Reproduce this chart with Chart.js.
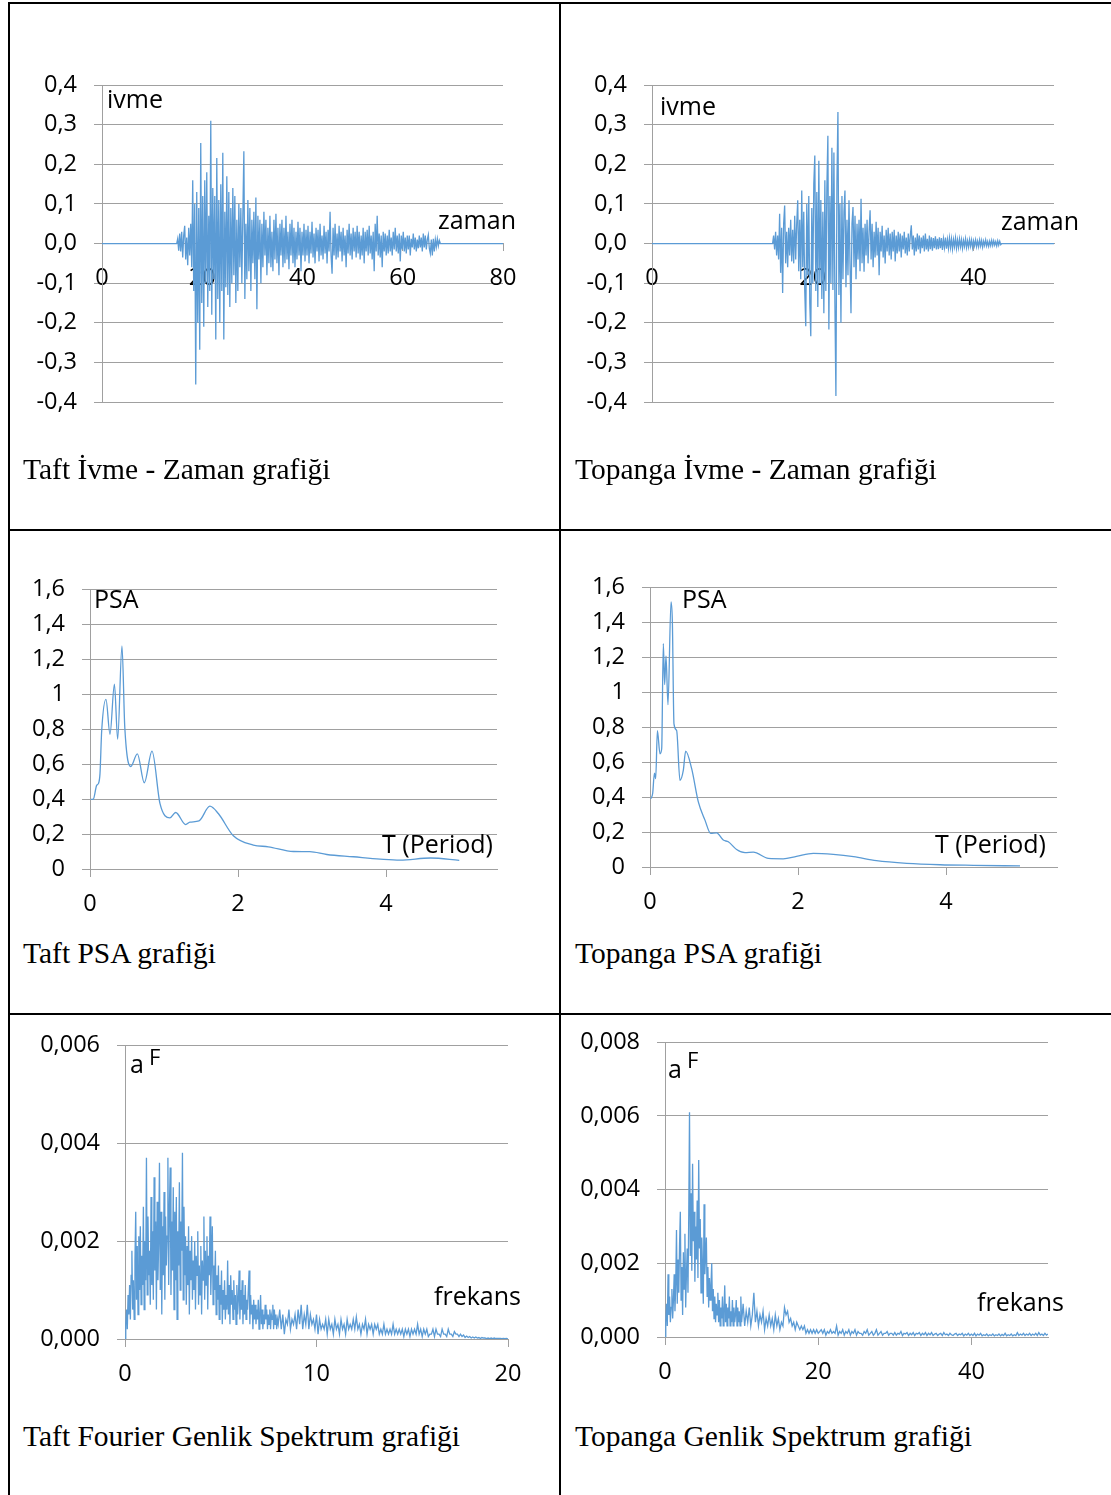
<!DOCTYPE html>
<html>
<head>
<meta charset="utf-8">
<script src="https://cdn.jsdelivr.net/npm/chart.js@4.4.1/dist/chart.umd.min.js"></script>
<style>
  body { margin: 0; background: #fff; }
  #page { position: relative; width: 1111px; height: 1495px; overflow: hidden; background: #fff; }
  .rule { position: absolute; background: #000; }
  canvas { position: absolute; }
  .cap { position: absolute; font-family: "Liberation Serif", "Times New Roman", serif; font-size: 29.5px; line-height: 1; white-space: nowrap; color: #000; }
  .ttl { position: absolute; font-family: "Open Sans", sans-serif; font-size: 25px; line-height: 1; white-space: nowrap; color: #000; }
  .ttl.sup { font-size: 22px; }
</style>
</head>
<body>
<div id="page">
  <!-- table rules -->
  <div class="rule" style="left:8px;top:2px;width:1103px;height:2px"></div>
  <div class="rule" style="left:8px;top:2px;width:2px;height:1493px"></div>
  <div class="rule" style="left:559px;top:2px;width:2px;height:1493px"></div>
  <div class="rule" style="left:8px;top:529px;width:1103px;height:2px"></div>
  <div class="rule" style="left:8px;top:1013px;width:1103px;height:2px"></div>

  <canvas id="taftAccChart"></canvas>
  <canvas id="topAccChart"></canvas>
  <canvas id="taftPsaChart"></canvas>
  <canvas id="topPsaChart"></canvas>
  <canvas id="taftFourierChart"></canvas>
  <canvas id="topFourierChart"></canvas>

  <!-- axis titles -->
  <div class="ttl" style="left:107px;top:86px">ivme</div>
  <div class="ttl" style="left:438px;top:207px">zaman</div>
  <div class="ttl" style="left:660px;top:93px">ivme</div>
  <div class="ttl" style="left:1001px;top:208px">zaman</div>
  <div class="ttl" style="left:94px;top:586px">PSA</div>
  <div class="ttl" style="left:382px;top:831px">T (Period)</div>
  <div class="ttl" style="left:682px;top:586px">PSA</div>
  <div class="ttl" style="left:935px;top:831px">T (Period)</div>
  <div class="ttl" style="left:130px;top:1051px">a</div>
  <div class="ttl sup" style="left:149px;top:1045px">F</div>
  <div class="ttl" style="left:434px;top:1283px">frekans</div>
  <div class="ttl" style="left:668px;top:1056px">a</div>
  <div class="ttl sup" style="left:687px;top:1048px">F</div>
  <div class="ttl" style="left:977px;top:1289px">frekans</div>

  <!-- captions -->
  <div class="cap" style="left:23px;top:455px">Taft İvme - Zaman grafiği</div>
  <div class="cap" style="left:575px;top:455px">Topanga İvme - Zaman grafiği</div>
  <div class="cap" style="left:23px;top:939px">Taft PSA grafiği</div>
  <div class="cap" style="left:575px;top:939px">Topanga PSA grafiği</div>
  <div class="cap" style="left:23px;top:1422px">Taft Fourier Genlik Spektrum grafiği</div>
  <div class="cap" style="left:575px;top:1422px">Topanga Genlik Spektrum grafiği</div>
</div>

<script>
// ---- Taft acceleration record (g), one value every TAFT_DT s starting at TAFT_T0
const TAFT_T0 = 14.9;
const TAFT_DT = 0.2;
const TAFT_TMAX = 80;
const taftAcc = [
  0, .012, -.018, .025, -.02, .03, -.035, .02, .045, -.04,
  .015, -.055, .04, -.03, .05, -.06, .16, -.12, .1, -.356,
  .13, -.2, .09, -.268, .254, -.15, .12, -.21, .16, -.1,
  .18, -.16, .07, -.12, .31, -.18, .14, -.09, .12, -.242,
  .216, -.14, .11, -.2, .15, -.12, .229, -.242, .08, -.11,
  .17, -.13, .13, -.16, .09, -.1, .14, -.08, .12, -.15,
  .06, -.12, .1, -.06, .09, -.1, .07, .233, -.14, .05,
  -.09, .11, -.07, .09, -.12, .06, -.05, .08, -.09, .116,
  -.166, .07, -.04, .06, -.1, .05, -.06, .08, -.03, .06,
  -.08, .04, -.05, .07, -.06, .03, -.07, .06, -.04, .075,
  -.05, .04, -.08, .05, -.03, .06, -.06, .04, -.05, .07,
  -.04, .03, -.065, .05, -.03, .06, -.05, .04, -.06, .03,
  -.04, .055, -.03, .04, -.07, .03, -.03, .05, -.045, .035,
  -.03, .045, -.05, .03, -.025, .055, -.035, .025, -.05, .04,
  -.02, .035, -.045, .05, -.03, .02, -.04, .045, -.025, .03,
  -.05, .035, -.02, .08, -.03, -.076, .04, -.03, .05, -.04,
  .025, -.035, .045, -.02, .03, -.045, .04, -.03, .02, -.06,
  .035, -.025, .05, -.03, .025, -.04, .04, -.02, .03, -.035,
  .045, -.025, .03, -.04, .02, -.03, .04, -.05, .03, -.02,
  .035, -.03, .045, -.025, .02, -.04, .03, -.07, .05, -.02,
  .07, -.03, .025, -.035, .02, -.06, .03, -.02, .025, -.03,
  .02, -.025, .035, -.02, .015, -.03, .03, -.015, .04, -.02,
  .02, -.025, .025, -.045, .02, -.015, .03, -.02, .015, -.025,
  .02, -.015, .02, -.03, .012, -.01, .025, -.015, .015, -.02,
  .01, -.012, .02, -.01, .015, -.02, .025, -.01, .02, -.015,
  .01, .022, -.012, -.025, .01, -.03, .012, -.02, .01, -.008,
  .012, -.006, .008, 0
];

// ---- Topanga acceleration record (g)
const TOP_T0 = 15.0;
const TOP_DT = 0.125;
const TOP_TMAX = 50;
const topAcc = [
  0, .02, -.015, .03, -.03, .02, -.04, .075, -.074, .04,
  -.125, .05, .096, -.05, .03, -.06, .04, -.03, .06, -.045,
  .035, -.05, .07, -.04, .05, .109, -.07, .06, -.09, .134,
  -.06, .08, -.12, -.209, .1, -.08, .12, -.15, -.234, .09,
  -.1, .15, .222, -.12, .13, -.16, .209, -.1, .11, -.14,
  .08, -.176, .16, -.12, .14, .272, -.217, .12, -.1, .242,
  -.117, .23, -.15, -.385, .15, .332, -.13, .1, -.2, .12,
  -.09, .08, .134, -.11, .06, -.08, .109, -.05, -.176, .05,
  .092, -.06, .07, -.09, .05, -.04, .06, -.07, .113, -.05,
  .04, -.071, .05, -.03, .06, -.05, .03, .084, -.04, .05,
  -.06, .03, -.035, .055, -.03, .04, -.08, .03, -.02, .045,
  -.035, .02, -.05, .035, -.02, .04, -.03, .025, -.04, .03,
  -.02, .035, -.045, .02, -.025, .03, -.02, .025, -.035, .02,
  -.015, .03, -.025, .015, -.03, .025, -.02, .02, .046, -.015,
  .02, -.03, .015, -.02, .025, -.015, .02, -.025, .015, -.012,
  .02, -.02, .025, -.015, .012, -.02, .02, -.014, .016, -.018,
  .014, -.012, .018, -.015, .012, -.014, .016, -.012, .014, -.016,
  .012, -.01, .015, -.013, .01, -.012, .014, -.01, .012, -.014,
  .01, -.008, .014, -.012, .009, -.01, .012, -.008, .01, -.012,
  .008, -.007, .012, -.01, .007, -.009, .01, -.007, .009, -.01,
  .007, -.006, .009, -.008, .006, -.008, .009, -.006, .008, -.009,
  .006, -.005, .009, -.006, .005, -.007, .006, -.005, .008, -.005,
  .007, -.004, .005, -.006, .007, -.004, .006, -.003, 0
];

// ---- Pseudo spectral acceleration (g) against period T (s)
const taftPeriod = [0.01, 0.045, 0.09, 0.113, 0.135, 0.158, 0.216, 0.27, 0.33, 0.374, 0.432, 0.47, 0.55, 0.64, 0.734,
  0.838, 0.946, 1.08, 1.158, 1.293, 1.35, 1.473, 1.62, 1.734, 1.937, 2.207, 2.41, 2.75, 2.97, 3.2, 3.56, 3.92, 4.19, 4.6, 4.99];
const taftPsa = [0.398, 0.40, 0.478, 0.488, 0.545, 0.79, 0.97, 0.77, 1.057, 0.742, 1.275, 0.81, 0.586, 0.658, 0.493,
  0.674, 0.374, 0.292, 0.323, 0.254, 0.268, 0.275, 0.359, 0.317, 0.19, 0.137, 0.127, 0.10, 0.099, 0.083, 0.07, 0.057, 0.051, 0.063, 0.049];

const topPeriod = [0.01, 0.036, 0.06, 0.077, 0.1, 0.135, 0.158, 0.18, 0.198, 0.216, 0.243, 0.284, 0.302, 0.324, 0.36,
  0.405, 0.45, 0.482, 0.563, 0.653, 0.743, 0.82, 0.9, 0.99, 1.058, 1.17, 1.284, 1.396, 1.6, 1.8, 1.98, 2.207, 2.477,
  2.75, 3.06, 3.47, 3.92, 4.37, 5.0];
const topPsa = [0.39, 0.42, 0.537, 0.505, 0.78, 0.647, 0.676, 1.277, 1.042, 1.207, 0.928, 1.516, 1.406, 0.818, 0.78,
  0.495, 0.552, 0.662, 0.562, 0.372, 0.268, 0.192, 0.195, 0.154, 0.144, 0.10, 0.082, 0.085, 0.049, 0.047, 0.061, 0.078, 0.072,
  0.059, 0.036, 0.021, 0.013, 0.0095, 0.006];

// ---- Fourier amplitude spectra: a fine band from 0 Hz, then a coarser band from *_F_SPLIT
const TAFT_DF_LOW = 0.04;
const TAFT_F_SPLIT = 8;
const TAFT_DF_HIGH = 0.08;
const taftFourierLow = [
  0, .0003, .0006, .0002, .0009, .0005, .0011, .0004, .0013, .0018,
  .0006, .0012, .0004, .0016, .0026, .0008, .0019, .0005, .0021, .0010,
  .0023, .0007, .0017, .0011, .0027, .0006, .0020, .0012, .0037, .0009,
  .0025, .0013, .0018, .0007, .0029, .0011, .0022, .0008, .0033, .0014,
  .0024, .0006, .0028, .0012, .0020, .0036, .0010, .0026, .0005, .0023,
  .0013, .0030, .0008, .0025, .0015, .0021, .0037, .0011, .0027, .0035,
  .0009, .0024, .0014, .0031, .0006, .0026, .0012, .0029, .0004, .0022,
  .0015, .0032, .0010, .0024, .0018, .0038, .0008, .0027, .0013, .0021,
  .0007, .0019, .0011, .0023, .0005, .0018, .0012, .0021, .0008, .0016,
  .0010, .0020, .0006, .0017, .0013, .0022, .0007, .0015, .0009, .0019,
  .0005, .0016, .0012, .0025, .0008, .0018, .0011, .0021, .0006, .0017,
  .0013, .0025, .0009, .0016, .0023, .0007, .0015, .0010, .0018, .0005,
  .0013, .0008, .0015, .0004, .0011, .0007, .0014, .0003, .0010, .0006,
  .0012, .0004, .0009, .0006, .0016, .0005, .0011, .0003, .0013, .0007,
  .0010, .0004, .0012, .0006, .0009, .0003, .0011, .0005, .0008, .0014,
  .0004, .0010, .0006, .0012, .0003, .0009, .0005, .0011, .0004, .0008,
  .0006, .0010, .0014, .0003, .0009, .0005, .0007, .0002, .0008, .0004,
  .0007, .0003, .0006, .0004, .0008, .0002, .0005, .0009, .0003, .0006,
  .0002, .0005, .0003, .0007, .0004, .0006, .0002, .0005, .0003, .0006,
  .0002, .0005, .0004, .0007, .0002, .0006, .0003, .0005, .0002, .0004
];
const taftFourierHigh = [
  .0003, .0006, .0002, .0005, .0001, .0004, .0003, .0006, .0002, .0004,
  .0003, .0005, .0002, .0006, .0003, .0007, .0002, .0005, .0003, .0007,
  .0002, .0005, .0003, .0004, .0002, .0005, .0001, .0004, .0002, .0003,
  .0002, .0004, .0001, .0004, .0002, .0003, .0001, .0004, .0002, .0003,
  .0001, .0004, .0002, .0003, .0001, .0004, .0002, .0003, .0002, .0004,
  .0002, .00045, .0002, .0003, .0001, .0003, .0002, .0004, .0001, .0003,
  .0002, .0003, .0001, .0003, .0002, .0003, .0001, .0002, .0001, .0003,
  .0001, .0002, .0001, .0002, .0001, .0003, .0001, .0002, .0001, .0002,
  .0001, .0002, .00005, .0002, .0001, .0002, .00005, .0002, .0001, .0002,
  .0001, .0003, .0001, .0002, .00005, .0002, .0001, .0002, .00005, .0001,
  .0001, .0002, .00005, .0002, .0001, .0001, .00005, .0002, .0001, .0001,
  .00005, .0002, .0001, .0001, .00005, .00015, .0001, .0001, .00005, .0001,
  .00005, .00008, .00003, .00006, .00003, .00005, .00002, .00004, .00002, .00004,
  .00002, .00003, .00001, .00003, .00002, .00002, .00001, .00002, .00001, .00002,
  .00001, .00002, .00001, .00001, .00001, .00001, .000005, .00001, .000005, .00001, 0
];

const TOP_DF_LOW = 0.1;
const TOP_F_SPLIT = 10;
const TOP_DF_HIGH = 0.2;
const topFourierLow = [
  0, .0004, .0009, .0003, .0017, .0006, .0011, .0004, .0008, .0013,
  .0005, .0010, .0017, .0007, .0014, .0029, .0009, .0021, .0012, .0025,
  .0034, .0010, .0019, .0006, .0023, .0013, .0028, .0008, .0017, .0024,
  .0012, .0033, .0061, .0022, .0039, .0018, .0047, .0026, .0034, .0015,
  .0030, .0021, .0037, .0016, .0048, .0024, .0032, .0012, .0027, .0019,
  .0009, .0036, .0017, .0022, .0027, .0011, .0019, .0008, .0016, .0010,
  .0014, .0020, .0007, .0013, .0005, .0011, .0004, .0009, .0006, .0012,
  .0004, .0010, .0003, .0008, .0005, .0011, .0003, .0007, .0014, .0004,
  .0009, .0003, .0008, .0005, .0011, .0003, .0007, .0004, .0010, .0003,
  .0008, .0004, .0006, .0010, .0003, .0008, .0004, .0007, .0003, .0011
];
const topFourierHigh = [
  .0004, .0009, .0003, .0007, .0004, .0008, .0003, .0006, .0012, .0004,
  .0007, .0003, .0006, .0004, .0007, .0002, .0005, .0003, .0006, .0003,
  .0005, .0002, .0006, .0003, .0005, .0002, .0004, .0003, .0008, .0006,
  .0007, .0004, .0005, .0003, .0004, .0002, .0004, .0003, .0002, .0003,
  .0002, .0003, .0001, .0002, .0001, .0002, .0001, .0002, .0001, .0002,
  .0001, .00015, .0002, .0001, .0002, .00005, .00015, .0001, .0002, .0001,
  .00015, .0001, .0003, .00005, .00015, .0001, .0002, .00005, .00015, .0001,
  .0002, .00005, .00015, .0001, .0002, .00005, .00015, .0001, .0001, .00005,
  .00015, .0001, .0002, .00005, .0001, .00015, .00005, .0001, .0002, .00005,
  .0001, .00015, .00005, .0001, .0001, .00015, .00005, .0001, .0001, .00005,
  .00012, .00005, .0001, .00008, .00015, .00004, .0001, .00008, .00012, .00004,
  .0001, .00006, .00012, .00004, .0001, .00008, .00012, .00004, .0001, .00006,
  .00012, .00004, .0001, .00006, .00012, .00004, .00008, .0001, .00004, .00008,
  .0001, .00004, .00012, .00006, .00008, .00004, .0001, .00006, .00004, .00008,
  .0001, .00004, .00008, .00006, .0001, .00003, .00008, .00005, .0001, .00004,
  .00008, .00004, .0001, .00003, .00008, .00005, .0001, .00003, .00006, .00004,
  .00008, .00003, .00006, .00004, .00008, .00003, .00006, .00004, .00008, .00003,
  .00007, .00004, .0001, .00003, .00006, .00004, .00008, .00003, .00006, .00004,
  .00012, .00004, .00008, .00005, .0001, .00004, .00008, .00005, .0001, .00004,
  .00008, .00005, .0001, .00004, .00012, .00005, .00008, .00004, .0001, .00005, .00008
];

// ---- drawing
const LINE_BLUE = "#5b9bd5";
const AXIS_GREY = "#a0a0a0";
const TICK_FONT = { family: "'Open Sans', sans-serif", size: 23.5 };
const Y_AXIS_W = 90, PAD_T = 30, PAD_R = 40, PAD_B = 60;

function commaFixed(v, digits) {
  if (Math.abs(v) < 1e-12) v = 0;
  return v.toFixed(digits).replace(".", ",");
}
function commaGeneral(v) {
  return String(Math.round(v * 10) / 10).replace(".", ",");
}
function sampled(x0, dx, ys) {
  return ys.map((y, i) => ({ x: x0 + i * dx, y: y }));
}
function paired(xs, ys) {
  return xs.map((x, i) => ({ x: x, y: ys[i] }));
}

// area = chart plotting rectangle on the page
function buildChart(canvasId, area, points, opt) {
  const canvas = document.getElementById(canvasId);
  canvas.width = area.right - area.left + Y_AXIS_W + PAD_R;
  canvas.height = area.bottom - area.top + PAD_T + PAD_B;
  canvas.style.left = (area.left - Y_AXIS_W) + "px";
  canvas.style.top = (area.top - PAD_T) + "px";

  return new Chart(canvas.getContext("2d"), {
    type: "line",
    data: {
      datasets: [{
        data: points,
        borderColor: LINE_BLUE,
        borderWidth: 1.3,
        pointRadius: 0,
        fill: false,
        tension: 0,
        cubicInterpolationMode: opt.smooth ? "monotone" : "default"
      }]
    },
    options: {
      responsive: false,
      animation: false,
      events: [],
      layout: { padding: { left: 0, top: PAD_T, right: PAD_R, bottom: PAD_B } },
      plugins: { legend: { display: false }, tooltip: { enabled: false } },
      scales: {
        x: {
          type: "linear",
          position: { y: 0 },
          min: opt.xMin, max: opt.xMax,
          grid: { drawOnChartArea: false, drawTicks: true, tickLength: 7, color: AXIS_GREY },
          border: { color: AXIS_GREY, width: 1 },
          ticks: {
            stepSize: opt.xStep, includeBounds: false, autoSkip: false, maxRotation: 0,
            padding: 14, font: TICK_FONT, color: "#000",
            callback: v => String(v)
          }
        },
        y: {
          min: opt.yMin, max: opt.yMax,
          grid: { color: AXIS_GREY, tickLength: 8 },
          border: { color: AXIS_GREY, width: 1 },
          ticks: { stepSize: opt.yStep, padding: 17, font: TICK_FONT, color: "#000", callback: opt.yFmt },
          afterFit: scale => { scale.width = Y_AXIS_W; }
        }
      }
    }
  });
}

document.addEventListener("DOMContentLoaded", function() {
  // 1. acceleration - time
  buildChart("taftAccChart", { left: 102, top: 84, right: 503, bottom: 402 },
    [{ x: 0, y: 0 }].concat(sampled(TAFT_T0, TAFT_DT, taftAcc), [{ x: TAFT_TMAX, y: 0 }]),
    { xMin: 0, xMax: TAFT_TMAX, xStep: 20, yMin: -0.4, yMax: 0.4, yStep: 0.1, yFmt: v => commaFixed(v, 1) });

  buildChart("topAccChart", { left: 652, top: 84, right: 1054, bottom: 402 },
    [{ x: 0, y: 0 }].concat(sampled(TOP_T0, TOP_DT, topAcc), [{ x: TOP_TMAX, y: 0 }]),
    { xMin: 0, xMax: TOP_TMAX, xStep: 20, yMin: -0.4, yMax: 0.4, yStep: 0.1, yFmt: v => commaFixed(v, 1) });

  // 2. PSA spectra
  buildChart("taftPsaChart", { left: 90, top: 588, right: 497, bottom: 869 },
    paired(taftPeriod, taftPsa),
    { smooth: true, xMin: 0, xMax: 5.5, xStep: 2, yMin: 0, yMax: 1.6, yStep: 0.2, yFmt: commaGeneral });

  buildChart("topPsaChart", { left: 650, top: 586, right: 1057, bottom: 867 },
    paired(topPeriod, topPsa),
    { smooth: true, xMin: 0, xMax: 5.5, xStep: 2, yMin: 0, yMax: 1.6, yStep: 0.2, yFmt: commaGeneral });

  // 3. Fourier amplitude spectra
  buildChart("taftFourierChart", { left: 125, top: 1044, right: 508, bottom: 1339 },
    sampled(0, TAFT_DF_LOW, taftFourierLow).concat(sampled(TAFT_F_SPLIT, TAFT_DF_HIGH, taftFourierHigh)),
    { xMin: 0, xMax: 20, xStep: 10, yMin: 0, yMax: 0.006, yStep: 0.002, yFmt: v => commaFixed(v, 3) });

  buildChart("topFourierChart", { left: 665, top: 1041, right: 1048, bottom: 1337 },
    sampled(0, TOP_DF_LOW, topFourierLow).concat(sampled(TOP_F_SPLIT, TOP_DF_HIGH, topFourierHigh)),
    { xMin: 0, xMax: 50, xStep: 20, yMin: 0, yMax: 0.008, yStep: 0.002, yFmt: v => commaFixed(v, 3) });
});
</script>
</body>
</html>
